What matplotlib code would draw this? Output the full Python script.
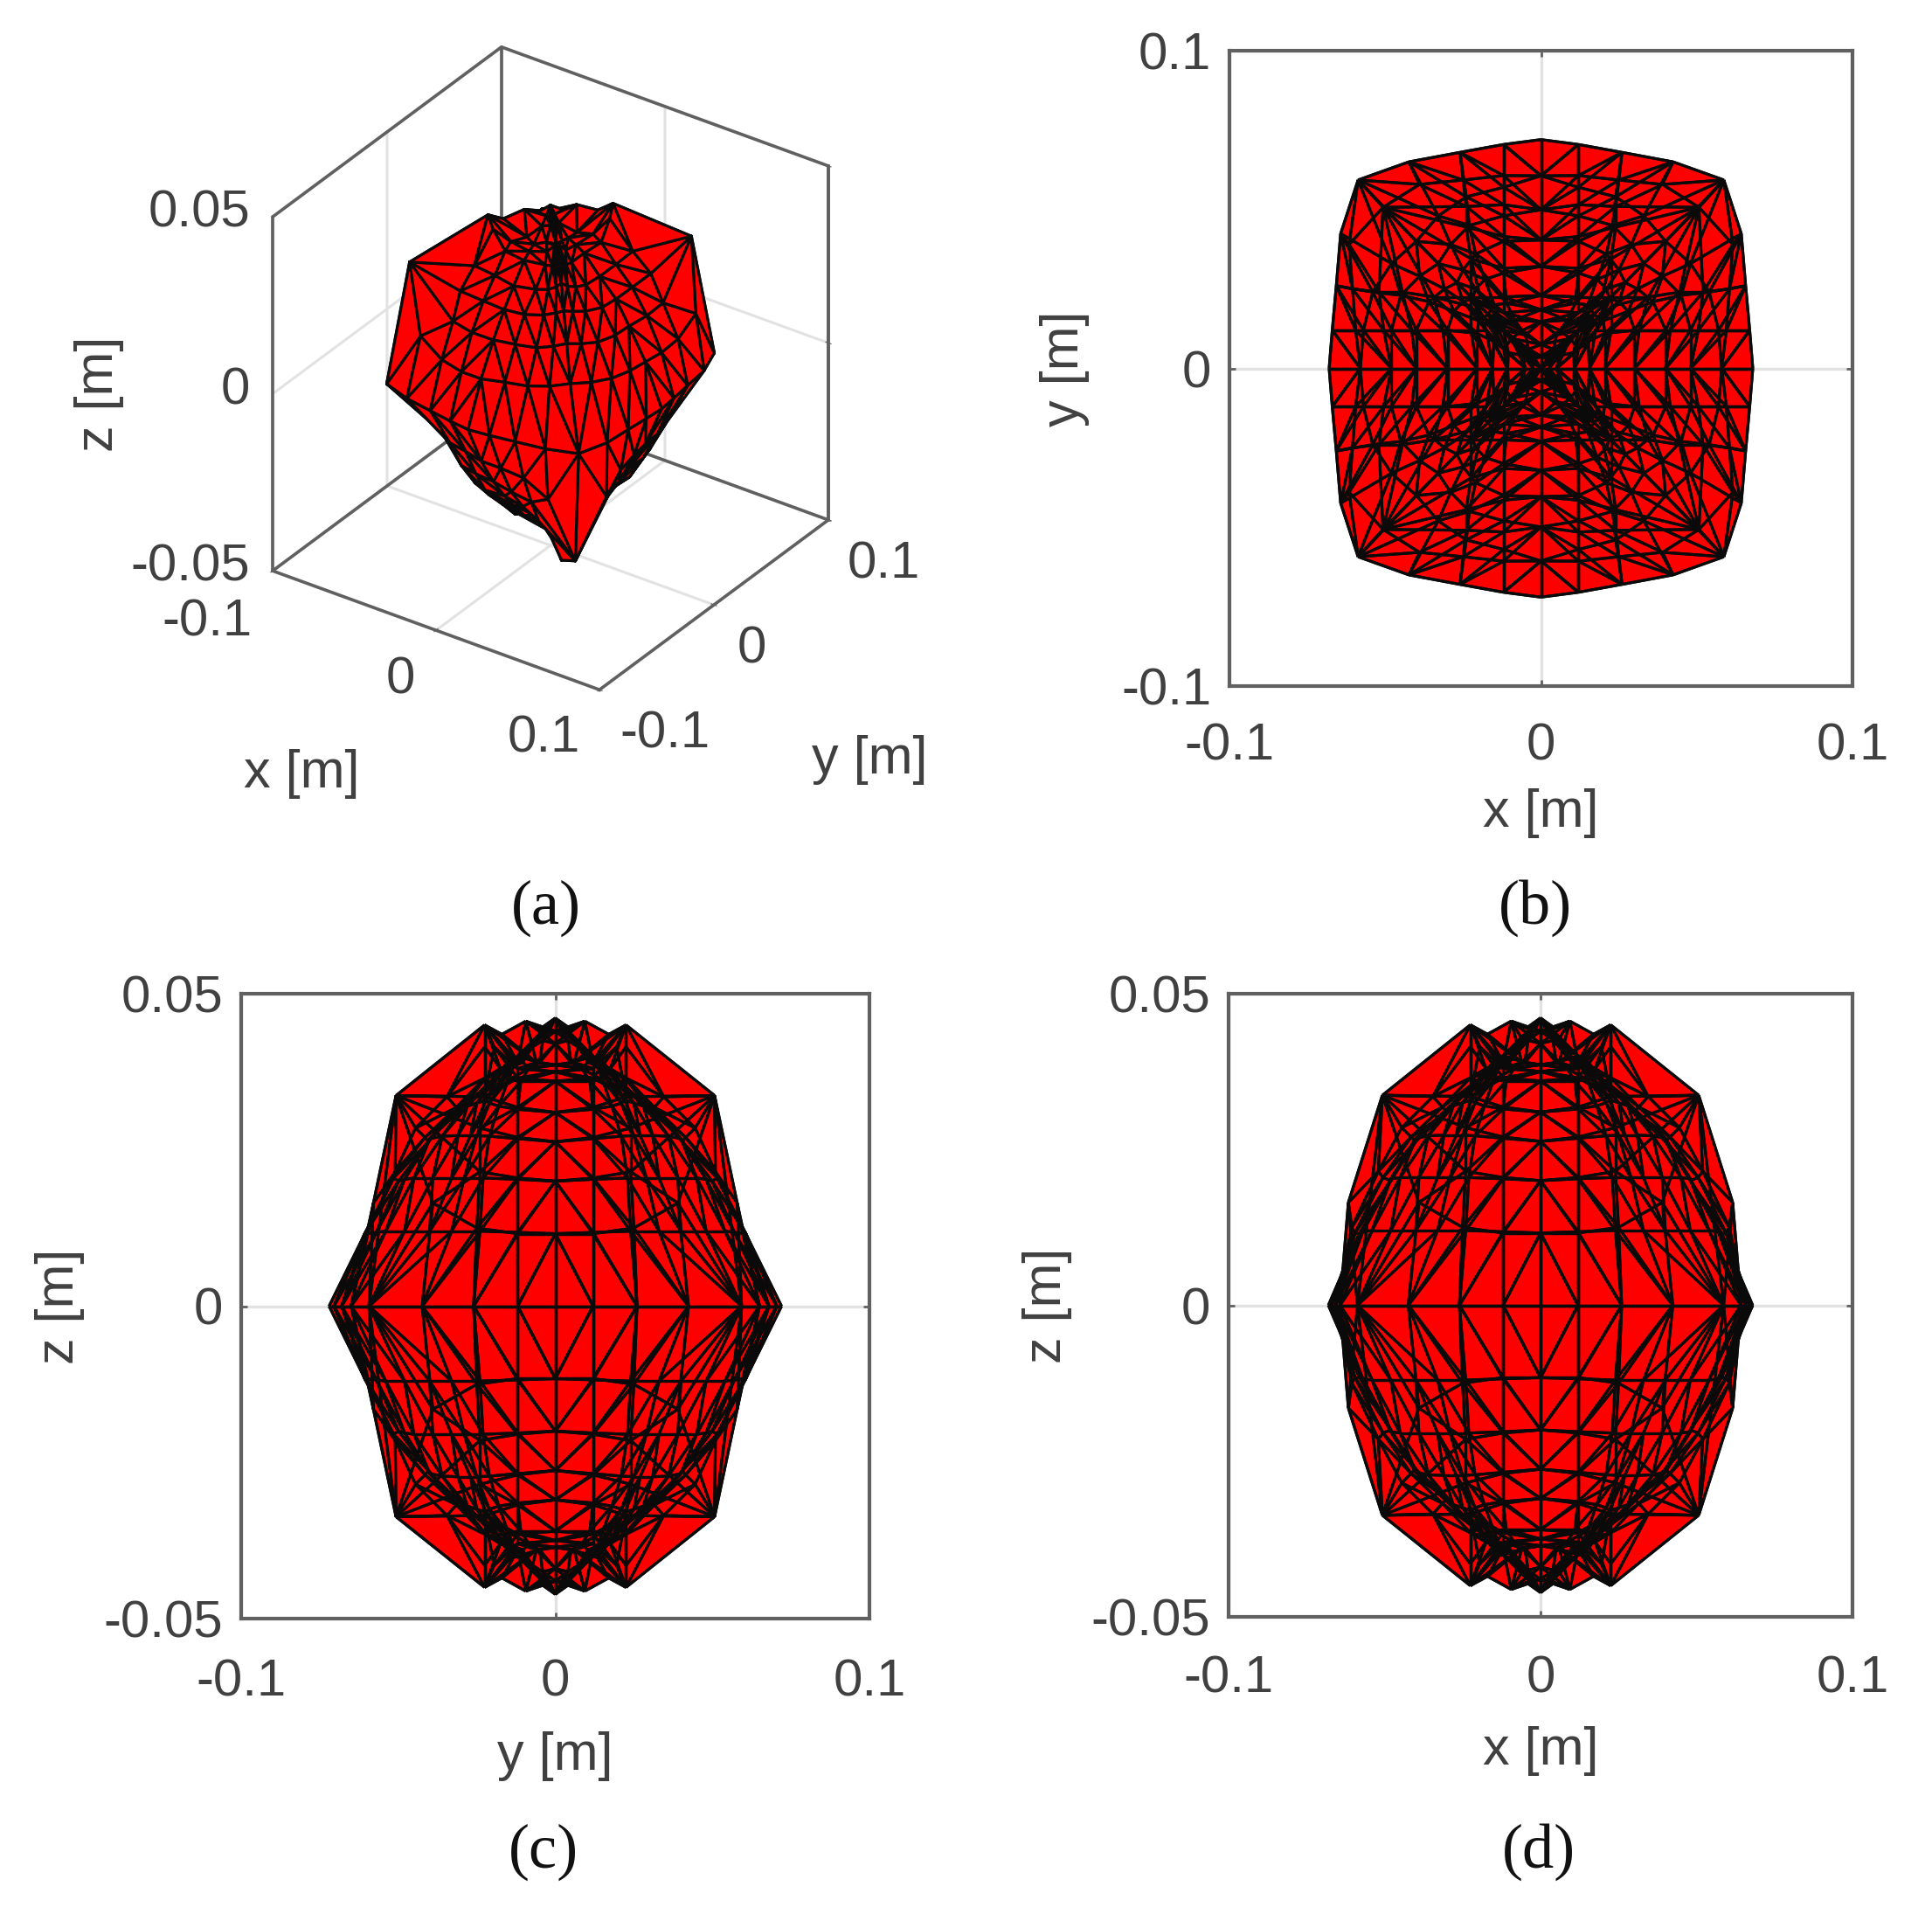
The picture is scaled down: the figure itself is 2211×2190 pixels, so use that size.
import numpy as np
import matplotlib
matplotlib.use("Agg")
import matplotlib.pyplot as plt
from matplotlib.collections import PolyCollection, LineCollection
from mpl_toolkits.mplot3d.art3d import Poly3DCollection
from mpl_toolkits.mplot3d import proj3d

# Octant tables read off the views: rows = rings (equator -> pole), columns = meridians (axis -> diagonal)
# "High" quadrants carry the raised ridge on the diagonal, "low" quadrants are the domed ones.
HIGH_L = [
    [.0680, .0670, .0657, .0643, .0587],
    [.0580, .0595, .0605, .0616, .0507],
    [.0480, .0505, .0520, .0507, .0507],
    [.0400, .0415, .0445, .0507, .0507],
    [.0300, .0315, .0345, .0225, .0225],
    [.0205, .0225, .0225, .0225, .0225],
    [.0155, .0175, .0225, .0225, .0225],
    [.0107, .0120, .0170, .0170, .0170],
    [.0050, .0094, .0094, .0094, .0094],
    [.0025, .0045, .0045, .0045, .0045],
    [.0000, .0000, .0000, .0000, .0000],
]
HIGH_S = [
    [.0000, .0120, .0260, .0424, .0593],
    [.0000, .0120, .0250, .0390, .0507],
    [.0000, .0120, .0240, .0507, .0507],
    [.0000, .0120, .0240, .0507, .0507],
    [.0000, .0120, .0225, .0225, .0225],
    [.0000, .0120, .0195, .0225, .0225],
    [.0000, .0120, .0225, .0225, .0225],
    [.0000, .0060, .0170, .0170, .0170],
    [.0000, .0094, .0094, .0094, .0094],
    [.0000, .0045, .0045, .0045, .0045],
    [.0000, .0000, .0000, .0000, .0000],
]
HIGH_Z = [
    [.0000, .0000, .0000, .0000, .0000],
    [.0116, .0116, .0125, .0165, .0337],
    [.0200, .0205, .0215, .0337, .0337],
    [.0263, .0270, .0285, .0337, .0337],
    [.0310, .0318, .0335, .0450, .0450],
    [.0360, .0365, .0415, .0450, .0450],
    [.0375, .0380, .0450, .0450, .0450],
    [.0386, .0390, .0435, .0435, .0435],
    [.0420, .0456, .0456, .0456, .0456],
    [.0440, .0445, .0445, .0445, .0445],
    [.0461, .0461, .0461, .0461, .0461],
]
LOW_L = [
    [.0680, .0670, .0657, .0643, .0587],
    [.0580, .0570, .0540, .0480, .0400],
    [.0480, .0480, .0450, .0390, .0330],
    [.0400, .0400, .0360, .0310, .0270],
    [.0300, .0300, .0280, .0250, .0220],
    [.0205, .0205, .0200, .0185, .0170],
    [.0155, .0152, .0135, .0120, .0120],
    [.0107, .0105, .0120, .0120, .0120],
    [.0050, .0060, .0120, .0120, .0120],
    [.0025, .0030, .0120, .0120, .0120],
    [.0000, .0000, .0000, .0000, .0000],
]
LOW_S = [
    [.0000, .0120, .0260, .0424, .0593],
    [.0000, .0120, .0240, .0330, .0400],
    [.0000, .0120, .0230, .0290, .0330],
    [.0000, .0120, .0210, .0250, .0270],
    [.0000, .0120, .0180, .0210, .0220],
    [.0000, .0110, .0150, .0160, .0170],
    [.0000, .0085, .0120, .0120, .0120],
    [.0000, .0050, .0120, .0120, .0120],
    [.0000, .0040, .0120, .0120, .0120],
    [.0000, .0020, .0120, .0120, .0120],
    [.0000, .0000, .0000, .0000, .0000],
]
LOW_Z = [
    [.0000, .0000, .0000, .0000, .0000],
    [.0116, .0118, .0120, .0120, .0120],
    [.0200, .0203, .0205, .0205, .0205],
    [.0263, .0268, .0272, .0273, .0273],
    [.0310, .0315, .0320, .0325, .0330],
    [.0360, .0360, .0362, .0365, .0365],
    [.0375, .0380, .0400, .0400, .0400],
    [.0386, .0390, .0400, .0400, .0400],
    [.0420, .0425, .0400, .0400, .0400],
    [.0440, .0440, .0400, .0400, .0400],
    [.0461, .0461, .0461, .0461, .0461],
]
HIGH_STRETCH = [
    [1.059, 1.052, 1.035, 1.011],
    [1.045, 1.020, .980, .940],
    [1.040, 1.020, .980, 1.000],
    [1.010, 1.000, 1.000, 1.000],
    [1.070, 1.000, 1.000, 1.000],
    [1.120, 1.000, 1.000, 1.000],
    [1.190, 1.000, 1.000, 1.000],
    [1.370, 1.000, 1.000, 1.000],
    [1.500, 1.000, 1.000, 1.000],
    [1.500, 1.000, 1.000, 1.000],
    [1.000, 1.000, 1.000, 1.000],
]
XY_TICKS = [-0.1, 0, 0.1]
XY_TICK_LABELS = ["-0.1", "0", "0.1"]
Z_TICKS = [-0.05, 0, 0.05]
Z_TICK_LABELS = ["-0.05", "0", "0.05"]
CAPTIONS = ["(a)", "(b)", "(c)", "(d)"]

W, H = 2211, 2190
GREY = "#606060"
TXT = "#404040"
LINE = "#0a0a0a"
TICK_FS, LABEL_FS = 43, 44
plt.rcParams["font.family"] = ["Liberation Sans", "DejaVu Sans"]
fig = plt.figure(figsize=(W / 100, H / 100), dpi=100)


def vertex(i, j, high):
    L, S, Z = (HIGH_L, HIGH_S, HIGH_Z) if high else (LOW_L, LOW_S, LOW_Z)
    if j <= 4:
        return np.array([L[i][j], S[i][j], Z[i][j]])
    k = 8 - j
    st = HIGH_STRETCH[i][k] if (high or k == 0 or i == 0) else 1.0
    return np.array([S[i][k], L[i][k] * st, Z[i][k]])


def build():
    tris = []
    signs = [(a, b, c) for a in (1, -1) for b in (1, -1) for c in (1, -1)]
    for sg in signs:
        s = np.array(sg)
        high = sg[0] * sg[1] * sg[2] > 0
        for i in range(len(HIGH_L) - 1):
            for j in range(8):
                a, b = vertex(i, j, high), vertex(i, j + 1, high)
                c, d = vertex(i + 1, j, high), vertex(i + 1, j + 1, high)
                cand = [(a, b, c), (b, d, c)] if j < 4 else [(a, b, d), (a, d, c)]
                for t in cand:
                    if np.linalg.norm(np.cross(t[1] - t[0], t[2] - t[0])) > 1e-9:
                        tris.append(np.array(t) * s)
    return np.array(tris)


TRIS = build()


def panel(rect, u, v, vlim, vticks, vlabs, ulabel, vlabel, ucoord, vcoord, xpad):
    l, r, t, b = rect
    ax = fig.add_axes([l / W, 1 - b / H, (r - l) / W, (b - t) / H])
    ax.set_xlim(-.1, .1); ax.set_ylim(vlim)
    ax.set_axisbelow(True)
    ax.set_xticks(XY_TICKS, XY_TICK_LABELS); ax.set_yticks(vticks, vlabs)
    ax.grid(True, color="#e2e2e2", lw=2.4)
    ax.tick_params(direction="in", length=5, width=2, color=GREY, labelsize=TICK_FS, labelcolor=TXT, top=True, right=True)
    ax.tick_params(axis="x", pad=xpad)
    ax.tick_params(axis="y", pad=15)
    for sp in ax.spines.values():
        sp.set_linewidth(3); sp.set_color(GREY); sp.set_zorder(5)
    ax.add_collection(PolyCollection(TRIS[:, :, [u, v]], facecolors="#ff0000", edgecolors="none", zorder=2))
    seg = [t[[p, q]][:, [u, v]] for t in TRIS for p, q in ((0, 1), (1, 2), (2, 0))]
    ax.add_collection(LineCollection(seg, colors=LINE, linewidths=2.3, zorder=3))
    ax.set_xlabel(ulabel, fontsize=LABEL_FS, color=TXT, va="center")
    ax.set_ylabel(vlabel, fontsize=LABEL_FS, color=TXT, va="center")
    ax.xaxis.set_label_coords(*ucoord)
    ax.yaxis.set_label_coords(*vcoord)
    return ax


panel((1407, 2120, 58, 785), 0, 1, (-.1, .1), XY_TICKS, XY_TICK_LABELS, "x [m]", "y [m]", (.5, -.2008), (-.265, .5), 30)
panel((276, 995, 1137, 1852), 1, 2, (-.05, .05), Z_TICKS, Z_TICK_LABELS, "y [m]", "z [m]", (.5, -.2196), (-.289, .5), 33)
panel((1406, 2120, 1137, 1850), 0, 2, (-.05, .05), Z_TICKS, Z_TICK_LABELS, "x [m]", "z [m]", (.5, -.2146), (-.29, .5), 31)

# ---- panel (a): 3D view
ax3 = fig.add_axes([0.02, 0.68, 0.4, 0.4], projection="3d", proj_type="ortho", computed_zorder=False)
ax3.patch.set_visible(False)
ax3.view_init(elev=31.3, azim=-55)
ax3.set_box_aspect((1, 1, 1.038))
ax3.set_xlim(-.1, .1, view_margin=0)
ax3.set_ylim(-.1, .1, view_margin=0)
ax3.set_zlim(-.05, .05, view_margin=0)
ax3.autoscale(False)
ax3.add_collection3d(Poly3DCollection(TRIS, facecolors="#ff0000", edgecolors=LINE, linewidths=2.3, zsort="average", zorder=5))
ax3.set_xticks(XY_TICKS, [""] * 3)
ax3.set_yticks(XY_TICKS, [""] * 3)
ax3.set_zticks(Z_TICKS, [""] * 3)
ax3.tick_params(color=GREY)
for axis in (ax3.xaxis, ax3.yaxis, ax3.zaxis):
    axis.set_pane_color((1, 1, 1, 0))
    axis.pane.set_edgecolor(GREY)
    axis.pane.set_linewidth(2.6)
    axis.line.set_color(GREY)
    axis.line.set_linewidth(2.6)
    axis._axinfo["grid"].update(color="#e2e2e2", linewidth=2.2)
    axis._axinfo["tick"].update(inward_factor=0.1, outward_factor=0.1)
# back walls of the box, over the light grid lines that share those edges
xa, ya, za = ax3.get_xlim(), ax3.get_ylim(), ax3.get_zlim()
for px_, py_, pz_ in [((xa[0], xa[0]), (ya[1], ya[1]), za),
                      ((xa[0], xa[0]), (ya[0], ya[0]), za),
                      ((xa[1], xa[1]), (ya[1], ya[1]), za),
                      ((xa[0], xa[0]), ya, (za[1], za[1])),
                      (xa, (ya[1], ya[1]), (za[1], za[1])),
                      ((xa[0], xa[0]), ya, (za[0], za[0])),
                      (xa, (ya[1], ya[1]), (za[0], za[0]))]:
    ax3.plot(px_, py_, pz_, color=GREY, lw=2.6, zorder=1, solid_capstyle="round")

TARGET_WIDTH, TARGET_CX, TARGET_CY = 636, 630, 421.5


def box_px():
    fig.canvas.draw()
    pts = []
    M = ax3.get_proj()
    for cx in (-.1, .1):
        for cy in (-.1, .1):
            for cz in (-.05, .05):
                a, b, _ = proj3d.proj_transform(cx, cy, cz, M)
                pts.append(ax3.transData.transform((a, b)))
    return np.array(pts)


size = 0.4 * W
px, py = 0.02 * W + size / 2, 0.5 * H
for _ in range(3):
    ax3.set_position([(px - size / 2) / W, (H - py - size / 2) / H, size / W, size / H])
    pts = box_px()
    wid = pts[:, 0].max() - pts[:, 0].min()
    cx, cy = pts[:, 0].mean(), H - pts[:, 1].mean()
    size *= TARGET_WIDTH / wid
    px += (TARGET_CX - cx)
    py += (TARGET_CY - cy)
ax3.set_position([(px - size / 2) / W, (H - py - size / 2) / H, size / W, size / H])


def label_px(x, y, s, fs=TICK_FS, **kw):
    fig.text(x / W, 1 - y / H, s, fontsize=fs, color=kw.pop("color", TXT), va="center", ha=kw.pop("ha", "center"), **kw)


for s, pos in zip(XY_TICK_LABELS, [(237, 712), (458, 778), (622, 845)]):
    label_px(*pos, s)
for s, pos in zip(XY_TICK_LABELS, [(761, 840), (860, 743), (1011, 646)]):
    label_px(*pos, s)
for s, y in zip(Z_TICK_LABELS, [649, 447, 244]):
    label_px(286, y, s, ha="right")
label_px(345, 885, "x [m]", LABEL_FS)
label_px(995, 870, "y [m]", LABEL_FS)
label_px(113, 451, "z [m]", LABEL_FS, rotation=90)

for txt, pos in zip(CAPTIONS, [(625, 1039), (1757, 1039), (622, 2119), (1761, 2119)]):
    label_px(*pos, txt, 52, family="Liberation Serif", color="#111111")

fig.savefig("out.png", dpi=100, facecolor="white")
